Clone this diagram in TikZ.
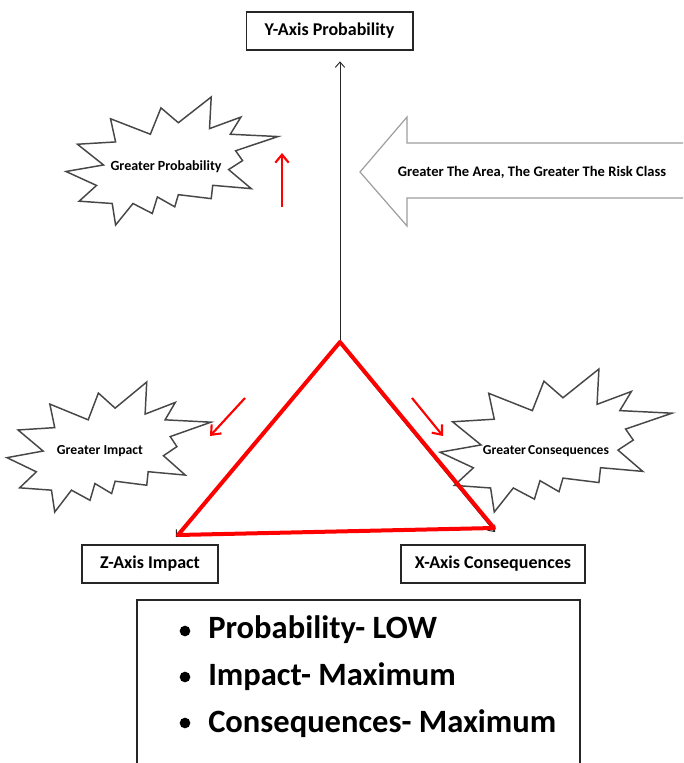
\documentclass[tikz,border=0pt]{standalone}
\usepackage{fontspec}
\setmainfont{Carlito}
\usetikzlibrary{arrows.meta}
\newcommand{\burst}[4]{\draw[starline, shift={(#1,#2)}, xscale=#3, yscale=#4]
 (0,0.582) -- (0.177,0.531) -- (0.054,0.369) -- (0.234,0.351) -- (0.210,0.170) -- (0.398,0.291) -- (0.448,0.085) -- (0.530,0.201) -- (0.685,0) -- (0.677,0.247) -- (0.825,0.157) -- (0.775,0.291) -- (1.0,0.309) -- (0.80,0.42) -- (0.833,0.497) -- (0.767,0.567) -- (0.874,0.716) -- (0.692,0.69) -- (0.685,0.794) -- (0.530,0.763) -- (0.513,0.858) -- (0.431,0.781) -- (0.407,0.910) -- (0.316,0.832) -- (0.234,1.0) -- (0.218,0.832) -- (0.062,0.814) -- (0.144,0.691) -- cycle;}
\begin{document}
\begin{tikzpicture}[x=0.75pt,y=-0.75pt,
 lbl/.style={draw=black!85, line width=1pt, fill=white, font=\bfseries\fontsize{13.5}{15}\selectfont, inner sep=0pt, minimum height=28.5pt},
 startxt/.style={font=\bfseries\fontsize{10.5}{12}\selectfont, inner sep=0pt},
 starline/.style={draw=black!72, line width=1.1pt, fill=white, line join=miter},
 redarr/.style={red, line width=1.6pt, -{Straight Barb[length=6pt,width=10pt]}},
 axarr/.style={black!85, line width=0.7pt, -{Straight Barb[length=4pt,width=7pt]}},
 listtxt/.style={font=\bfseries\fontsize{24.4}{28}\selectfont, anchor=base west, inner sep=0pt},
 bul/.style={circle, fill=black, inner sep=0pt, minimum size=8pt}
]
\useasboundingbox (0,0) rectangle (683,763);
\fill[white] (0,0) rectangle (683,763);

% starbursts
\burst{66}{97}{212}{128}
\burst{7}{382}{204}{130}
\burst{440}{369}{232}{143}
\node[startxt] (gp) at (166,167) {Greater Probability};
\node[startxt, font=\bfseries\fontsize{10.3}{12}\selectfont] (gi) at (100,451) {Greater Impact};
\node[startxt, font=\bfseries\fontsize{10.2}{12}\selectfont] (gc) at (546,451) {Greater\,Consequences};

% big hollow arrow
\begin{scope}
\clip (0,0) rectangle (683,763);
\draw[draw=black!38, line width=0.9pt, fill=white, line join=miter]
 (690,143) -- (407,143) -- (407,117) -- (360,172) -- (407,226) -- (407,198) -- (690,198);
\end{scope}
\node[startxt, font=\bfseries\fontsize{10.9}{12}\selectfont] (risk) at (532,172) {Greater The Area, The Greater The Risk Class};

% axis label boxes
\node[lbl, minimum width=125pt] (ybox) at (329.5,31) {Y-Axis Probability};
\node[lbl, minimum width=102pt] (zbox) at (150,564) {Z-Axis Impact};
\node[lbl, minimum width=138pt] (xbox) at (493,564) {X-Axis Consequences};

% axes
\coordinate (O) at (340,342);
\coordinate (Zc) at (176,537);
\coordinate (Xc) at (497,532);
\draw[axarr, shorten >=8pt] (O) -- (O |- ybox.south);
\draw[axarr] (O) -- (Zc);
\draw[axarr] ([xshift=-1.2pt]O) -- ([xshift=-1.5pt]Xc);

% red triangle
\coordinate (T) at (340,342);
\coordinate (BL) at (178,535);
\coordinate (BR) at (494,528);
\draw[red, line width=3pt, line join=round] (T) -- (BL) -- (BR) -- cycle;

% red arrows
\coordinate (pa1) at (282,207); \coordinate (pa2) at (282,153);
\coordinate (ia1) at (245,398); \coordinate (ia2) at (210,436);
\coordinate (ca1) at (412,398); \coordinate (ca2) at (443,436);
\draw[redarr] (pa1) -- (pa2);
\draw[redarr] (ia1) -- (ia2);
\draw[redarr] (ca1) -- (ca2);

% bottom box
\coordinate (b1) at (137,770); \coordinate (b2) at (137,600);
\coordinate (b3) at (580,600); \coordinate (b4) at (580,770);
\draw[black!85, line width=1pt] (b1) -- (b2) -- (b3) -- (b4);
\node[bul] (u1) at (185,631) {};
\node[bul] (u2) at (185,677) {};
\node[bul] (u3) at (185,723) {};
\node[listtxt] (l1) at (208,638) {Probability- LOW};
\node[listtxt] (l2) at (208,685) {Impact- Maximum};
\node[listtxt] (l3) at (208,732) {Consequences- Maximum};
\end{tikzpicture}
\end{document}
